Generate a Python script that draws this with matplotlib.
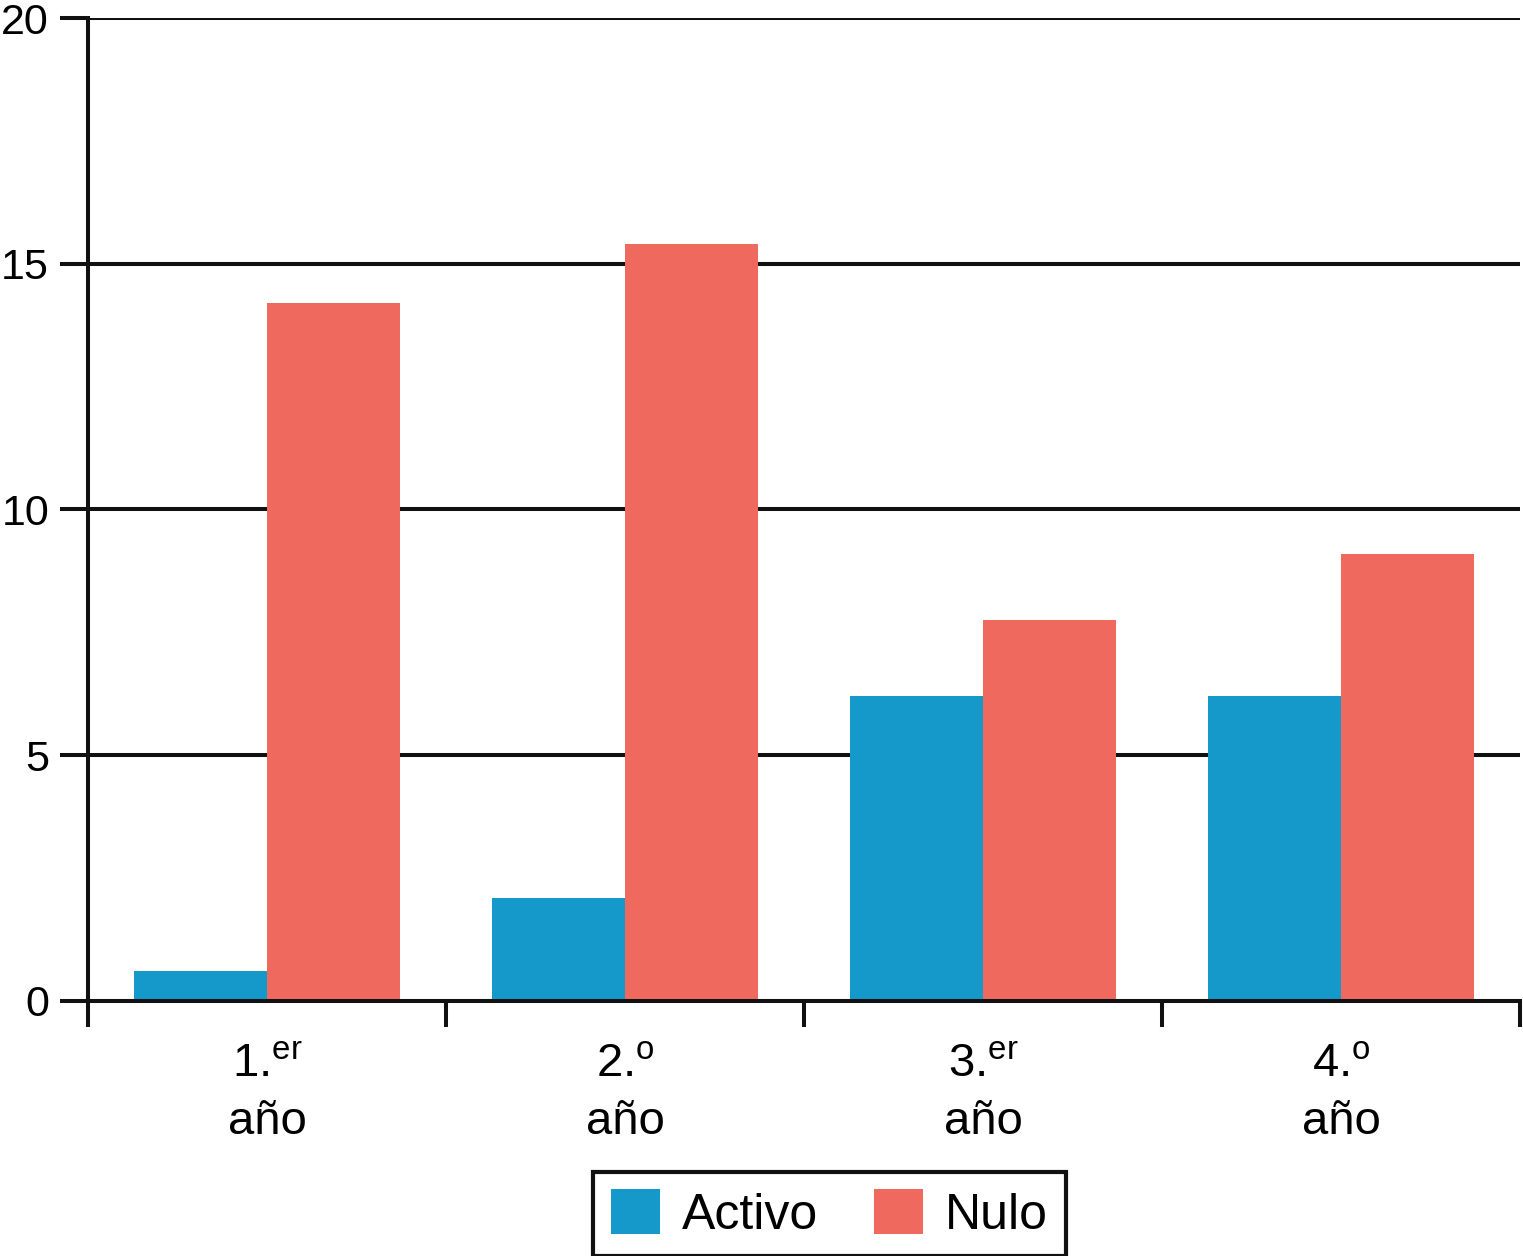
import numpy as np
import matplotlib.pyplot as plt

plt.rcParams['font.family'] = ['Liberation Sans', 'DejaVu Sans']
plt.rcParams['mathtext.fontset'] = 'custom'
plt.rcParams['mathtext.rm'] = 'Liberation Sans'

# Data
categories = ["1.$^{\\rm er}$\naño", "2.$^{\\rm o}$\naño", "3.$^{\\rm er}$\naño", "4.$^{\\rm o}$\naño"]
activo = [0.62, 2.1, 6.2, 6.2]
nulo = [14.2, 15.4, 7.75, 9.1]
series_names = ["Activo", "Nulo"]
colors = ["#1598CA", "#F0695F"]

fig = plt.figure(figsize=(15.23, 12.56), dpi=100)
ax = fig.add_axes([88 / 1523, 255 / 1256, 1432 / 1523, 983 / 1256])

x = np.arange(len(categories))
w = 0.3715
ax.bar(x - w / 2, activo, w, color=colors[0], label=series_names[0], zorder=3)
ax.bar(x + w / 2, nulo, w, color=colors[1], label=series_names[1], zorder=3)

ax.set_xlim(-0.5, len(categories) - 0.5)
ax.set_ylim(0, 20)

lw = 2.9
ink = '#111111'

# y axis: ticks to the left, grid lines across
ax.set_yticks([0, 5, 10, 15, 20])
ax.yaxis.grid(True, color=ink, linewidth=lw, zorder=1)
ax.tick_params(axis='y', direction='out', length=20, width=lw, color=ink,
               labelsize=31, pad=8)

# x axis: ticks at category boundaries, labels centred
ax.set_xticks(np.arange(-0.5, len(categories), 1.0))
ax.set_xticklabels([])
ax.set_xticks(x, minor=True)
ax.set_xticklabels(categories, minor=True, fontsize=34, linespacing=1.4)
ax.tick_params(axis='x', which='major', direction='out', length=19, width=lw, color=ink)
ax.tick_params(axis='x', which='minor', length=0, pad=30)

for s in ['top', 'right']:
    ax.spines[s].set_visible(False)
for s in ['left', 'bottom']:
    ax.spines[s].set_linewidth(lw)
    ax.spines[s].set_color(ink)
    ax.spines[s].set_zorder(4)

leg = fig.legend(loc='center', bbox_to_anchor=(829.5 / 1523, 42 / 1256), ncol=2,
                 fontsize=36, frameon=True, fancybox=False, edgecolor=ink,
                 handlelength=0.98, handleheight=0.98, handletextpad=0.45,
                 columnspacing=1.1, borderpad=0.35, borderaxespad=0)
leg.get_frame().set_linewidth(3)
leg.get_frame().set_alpha(None)
leg.get_frame().set_edgecolor(ink)

fig.savefig('out.png', dpi=100)
